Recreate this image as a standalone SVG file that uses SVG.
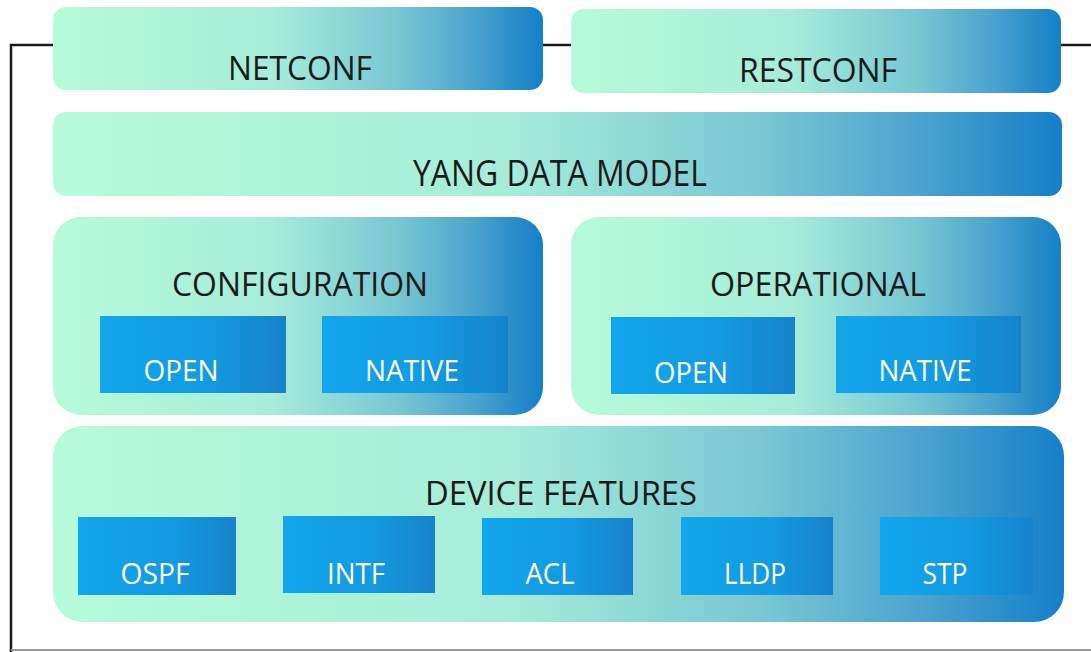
<svg xmlns="http://www.w3.org/2000/svg" width="1091" height="652" viewBox="0 0 1091 652">
<defs>
<linearGradient id="big" x1="0" y1="0" x2="1" y2="0">
<stop offset="0" stop-color="#b6fbd9"/>
<stop offset="0.45" stop-color="#a6ecd9"/>
<stop offset="0.7" stop-color="#78c8d3"/>
<stop offset="0.85" stop-color="#4ea6cf"/>
<stop offset="1" stop-color="#157fc9"/>
</linearGradient>
<linearGradient id="small" x1="0" y1="0" x2="1" y2="0">
<stop offset="0" stop-color="#12a6ec"/>
<stop offset="0.6" stop-color="#139ae0"/>
<stop offset="1" stop-color="#1782cb"/>
</linearGradient>
<style>
.big{fill:url(#big);}
.small{fill:url(#small);}
.h{font-family:"Open Sans","Liberation Sans",sans-serif;font-size:32px;fill:#1a1a1a;text-anchor:middle;}
.s{font-family:"Open Sans","Liberation Sans",sans-serif;font-size:29px;fill:#ffffff;text-anchor:middle;}
.conn{fill:none;stroke:#1a1a1a;stroke-width:2.5;}
</style>
</defs>
<rect x="0" y="0" width="1091" height="652" fill="#ffffff"/>
<g id="connectors">
<path class="conn" d="M53,45 H11 V652"/>
<path class="conn" d="M543,45 H571"/>
<path class="conn" d="M1061,45 H1091"/>
<path d="M11,650 H1091" stroke="#9a9a9a" stroke-width="2" fill="none"/>
</g>
<g id="netconf">
<rect class="big" x="53" y="7" width="490" height="83" rx="13"/>
<text class="h" x="300" y="80" textLength="144" lengthAdjust="spacingAndGlyphs">NETCONF</text>
</g>
<g id="restconf">
<rect class="big" x="571" y="9" width="490" height="84" rx="13"/>
<text class="h" x="818" y="82" textLength="158" lengthAdjust="spacingAndGlyphs">RESTCONF</text>
</g>
<g id="yang">
<rect class="big" x="53" y="112" width="1009" height="84" rx="13"/>
<text class="h" x="560" y="186" textLength="294" lengthAdjust="spacingAndGlyphs" style="font-size:36px">YANG DATA MODEL</text>
</g>
<g id="configuration">
<rect class="big" x="53" y="217" width="490" height="198" rx="28"/>
<text class="h" x="300" y="296" textLength="256" lengthAdjust="spacingAndGlyphs">CONFIGURATION</text>
<g id="config-open">
<rect class="small" x="100" y="316" width="186" height="77"/>
<text class="s" x="181" y="381" textLength="75" lengthAdjust="spacingAndGlyphs">OPEN</text>
</g>
<g id="config-native">
<rect class="small" x="322" y="316" width="186" height="77"/>
<text class="s" x="412" y="381" textLength="94" lengthAdjust="spacingAndGlyphs">NATIVE</text>
</g>
</g>
<g id="operational">
<rect class="big" x="571" y="217" width="490" height="198" rx="28"/>
<text class="h" x="818" y="296" textLength="216" lengthAdjust="spacingAndGlyphs">OPERATIONAL</text>
<g id="oper-open">
<rect class="small" x="611" y="317" width="184" height="77"/>
<text class="s" x="691" y="383" textLength="74" lengthAdjust="spacingAndGlyphs">OPEN</text>
</g>
<g id="oper-native">
<rect class="small" x="836" y="316" width="185" height="77"/>
<text class="s" x="925" y="381" textLength="93" lengthAdjust="spacingAndGlyphs">NATIVE</text>
</g>
</g>
<g id="device-features">
<rect class="big" x="53" y="426" width="1011" height="196" rx="30"/>
<text class="h" x="561" y="505" textLength="272" lengthAdjust="spacingAndGlyphs">DEVICE FEATURES</text>
<g id="ospf">
<rect class="small" x="78" y="517" width="158" height="78"/>
<text class="s" x="155" y="584" textLength="69" lengthAdjust="spacingAndGlyphs">OSPF</text>
</g>
<g id="intf">
<rect class="small" x="283" y="516" width="152" height="77"/>
<text class="s" x="356" y="584" textLength="58" lengthAdjust="spacingAndGlyphs">INTF</text>
</g>
<g id="acl">
<rect class="small" x="482" y="518" width="151" height="77"/>
<text class="s" x="550" y="584" textLength="49" lengthAdjust="spacingAndGlyphs">ACL</text>
</g>
<g id="lldp">
<rect class="small" x="681" y="517" width="152" height="78"/>
<text class="s" x="755" y="584" textLength="62" lengthAdjust="spacingAndGlyphs">LLDP</text>
</g>
<g id="stp">
<rect class="small" x="880" y="517" width="153" height="78"/>
<text class="s" x="945" y="584" textLength="45" lengthAdjust="spacingAndGlyphs">STP</text>
</g>
</g>
</svg>
